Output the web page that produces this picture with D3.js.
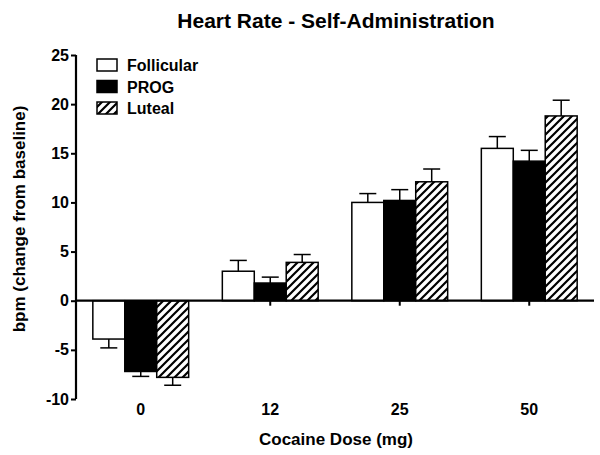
<!DOCTYPE html>
<html><head><meta charset="utf-8">
<script src="https://cdn.jsdelivr.net/npm/d3@7"></script>
<style>body{margin:0;background:#fff}svg{display:block}text{font-family:"Liberation Sans",Arial,sans-serif;font-weight:bold;fill:#000}</style>
</head><body><svg id="c" width="600" height="455"></svg>
<script>
const categories = ["0","12","25","50"];
const seriesNames = ["Follicular","PROG","Luteal"];
const follicular = [-3.9, 3.0, 10.0, 15.5];
const follicularErr = [0.9, 1.1, 0.9, 1.2];
const prog = [-7.2, 1.8, 10.2, 14.2];
const progErr = [0.5, 0.6, 1.1, 1.1];
const luteal = [-7.8, 3.9, 12.1, 18.8];
const lutealErr = [0.8, 0.8, 1.3, 1.6];
const yTicks = [-10,-5,0,5,10,15,20,25];

(function(){
const series = [
  {name: seriesNames[0], values: follicular, err: follicularErr, fill: "#fff"},
  {name: seriesNames[1], values: prog, err: progErr, fill: "#000"},
  {name: seriesNames[2], values: luteal, err: lutealErr, fill: "url(#hatch)"}
];

const svg = d3.select("#c");
const defs = svg.append("defs");
const pat = defs.append("pattern").attr("id","hatch").attr("patternUnits","userSpaceOnUse")
  .attr("width",8).attr("height",8);
pat.append("rect").attr("width",8).attr("height",8).attr("fill","#fff");
pat.append("path").attr("d","M-2,2 L2,-2 M0,8 L8,0 M6,10 L10,6").attr("stroke","#000").attr("stroke-width",2.2);

const L = 76, R = 594, T = 55, B = 399;
const y = d3.scaleLinear().domain([-10,25]).range([B, T]);
const x0 = d3.scaleBand().domain(categories).range([L, R]).paddingInner(0.26).paddingOuter(0.13);
const x1 = d3.scaleBand().domain(seriesNames).range([0, x0.bandwidth()]);

svg.append("text").attr("x",336).attr("y",28).attr("text-anchor","middle").style("font-size","21px")
  .text("Heart Rate - Self-Administration");

const g = svg.append("g");
series.forEach(s => {
  categories.forEach((c, i) => {
    const v = s.values[i];
    const bx = x0(c) + x1(s.name);
    const bw = x1.bandwidth();
    const e = v >= 0 ? v + s.err[i] : v - s.err[i];
    const cx = bx + bw/2;
    g.append("line").attr("x1",cx).attr("x2",cx).attr("y1",y(v)).attr("y2",y(e)).attr("stroke","#000").attr("stroke-width",1.5);
    g.append("line").attr("x1",cx-8.5).attr("x2",cx+8.5).attr("y1",y(e)).attr("y2",y(e)).attr("stroke","#000").attr("stroke-width",1.5);
    g.append("rect").attr("x",bx).attr("width",bw)
      .attr("y",Math.min(y(v),y(0))).attr("height",Math.abs(y(v)-y(0)))
      .attr("fill",s.fill).attr("stroke","#000").attr("stroke-width",1.5);
  });
});

const yAxis = d3.axisLeft(y).tickValues(yTicks).tickSize(5).tickPadding(2).tickFormat(d => String(d));
const ya = svg.append("g").attr("transform",`translate(${L},0)`).call(yAxis);
ya.select(".domain").attr("stroke-width",2.2).attr("d",`M0,${T}V${B}`);
ya.selectAll(".tick line").attr("stroke-width",2);
ya.selectAll(".tick text").style("font-size","16px").style("font-family","Liberation Sans, Arial, sans-serif").style("font-weight","bold");

const xAxis = d3.axisBottom(x0).tickSize(5).tickPadding(0);
const xa = svg.append("g").attr("transform",`translate(0,${y(0)})`).call(xAxis);
xa.select(".domain").attr("stroke-width",2.2).attr("d",`M${L},0H${R}`);
xa.selectAll(".tick line").attr("stroke-width",2);
xa.selectAll(".tick text").remove();

svg.append("g").selectAll("text").data(categories).join("text")
  .attr("x", d => x0(d) + x0.bandwidth()/2).attr("y",415).attr("text-anchor","middle")
  .style("font-size","16px").text(d => d);

svg.append("text").attr("x",336).attr("y",445).attr("text-anchor","middle").style("font-size","17px")
  .text("Cocaine Dose (mg)");
svg.append("text").attr("transform",`translate(25,${(T+B)/2 - 8}) rotate(-90)`).attr("text-anchor","middle")
  .style("font-size","17px").text("bpm (change from baseline)");

const leg = svg.append("g").attr("transform","translate(97,59)");
series.forEach((s, i) => {
  leg.append("rect").attr("x",0).attr("y",i*21.5).attr("width",20).attr("height",12)
    .attr("fill",s.fill).attr("stroke","#000").attr("stroke-width",1.5);
  leg.append("text").attr("x",30).attr("y",i*21.5+12).style("font-size","16px").text(s.name);
});
})();
</script></body></html>
